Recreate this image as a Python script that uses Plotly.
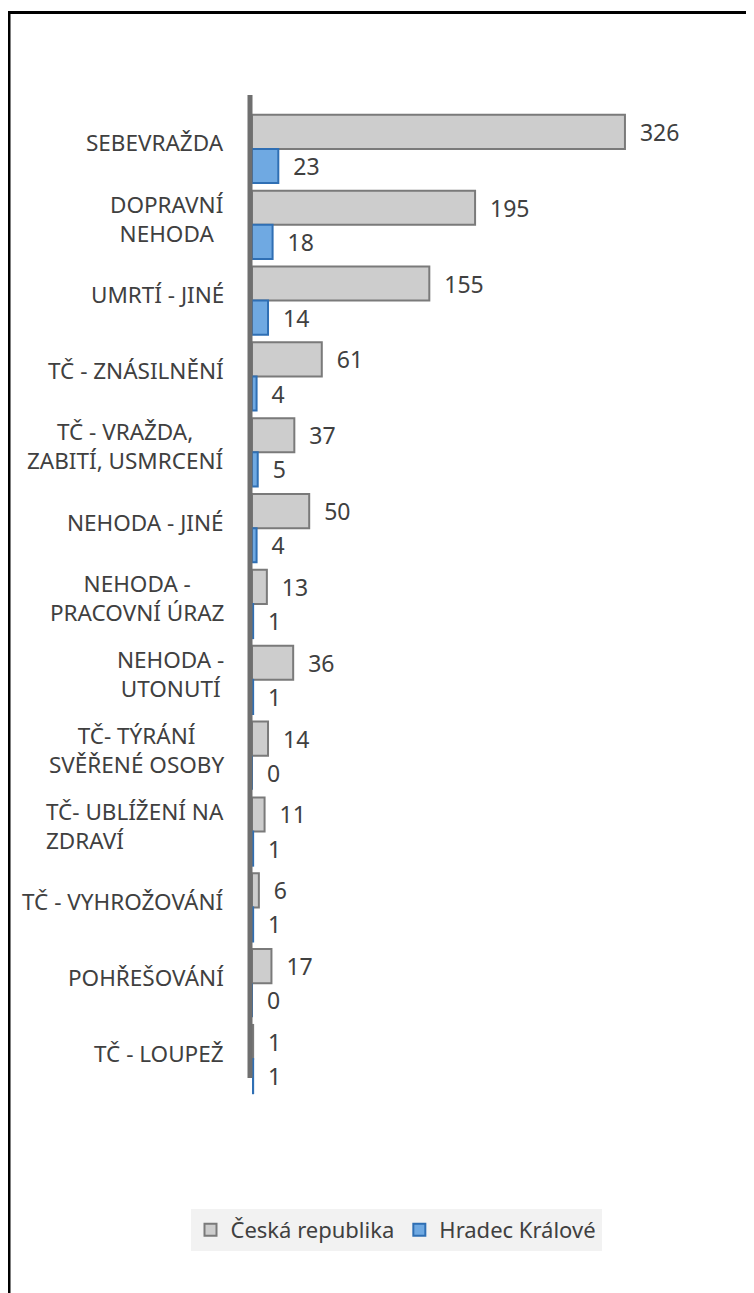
import plotly.graph_objects as go

categories = ["SEBEVRAŽDA", "DOPRAVNÍ NEHODA", "UMRTÍ - JINÉ", "TČ - ZNÁSILNĚNÍ",
              "TČ - VRAŽDA, ZABITÍ, USMRCENÍ", "NEHODA - JINÉ", "NEHODA - PRACOVNÍ ÚRAZ",
              "NEHODA - UTONUTÍ", "TČ- TÝRÁNÍ SVĚŘENÉ OSOBY", "TČ- UBLÍŽENÍ NA ZDRAVÍ",
              "TČ - VYHROŽOVÁNÍ", "POHŘEŠOVÁNÍ", "TČ - LOUPEŽ"]
tick_labels = ["SEBEVRAŽDA", "DOPRAVNÍ<br>NEHODA", "UMRTÍ - JINÉ", "TČ - ZNÁSILNĚNÍ",
               "TČ - VRAŽDA,<br>ZABITÍ, USMRCENÍ", "NEHODA - JINÉ", "NEHODA -<br>PRACOVNÍ ÚRAZ",
               "NEHODA -<br>UTONUTÍ", "TČ- TÝRÁNÍ<br>SVĚŘENÉ OSOBY", "TČ- UBLÍŽENÍ NA<br>ZDRAVÍ",
               "TČ - VYHROŽOVÁNÍ", "POHŘEŠOVÁNÍ", "TČ - LOUPEŽ"]
label_align = ["center"] * 9 + ["left"] + ["center"] * 3
ceska_republika = [326, 195, 155, 61, 37, 50, 13, 36, 14, 11, 6, 17, 1]
hradec_kralove = [23, 18, 14, 4, 5, 4, 1, 1, 0, 1, 1, 0, 1]

OFF = 8  # page body margin
W, H = 754 - OFF, 1293 - OFF
L, T = 252 - OFF, 111 - OFF
PR, PB = 700 - OFF, 1097 - OFF  # plot right / bottom in figure pixels
R, B = W - PR, H - PB
pw, ph = PR - L, PB - T

FONT = "Noto Sans"
TXT = "#404040"

fig = go.Figure()
fig.add_trace(go.Bar(
    y=categories, x=ceska_republika, orientation="h", name="Česká republika",
    marker=dict(color="#cdcdcd", line=dict(color="#7a7a7a", width=2)),
    text=ceska_republika, texttemplate="\u00a0\u00a0%{x}", textposition="outside",
    textfont=dict(family=FONT, size=23, color=TXT), cliponaxis=False,
))
fig.add_trace(go.Bar(
    y=categories, x=hradec_kralove, orientation="h", name="Hradec Králové",
    marker=dict(color="#6fa9e2", line=dict(color="#2f6fb4", width=2)),
    text=hradec_kralove, texttemplate="\u00a0\u00a0%{x}", textposition="outside",
    textfont=dict(family=FONT, size=23, color=TXT), cliponaxis=False,
))

for cat, lab, al in zip(categories, tick_labels, label_align):
    fig.add_annotation(x=0, xref="paper", y=cat, yref="y", text=lab, showarrow=False,
                       xanchor="right", yanchor="middle", xshift=-26, yshift=6, align=al,
                       font=dict(family=FONT, size=22.5, color=TXT))

def px_x(p):
    return (p - OFF - L) / pw

def px_y(p):
    return 1 - (p - OFF - T) / ph

# outer border
fig.add_shape(type="rect", xref="paper", yref="paper",
              x0=px_x(9), x1=px_x(800), y0=px_y(1340), y1=px_y(12.5),
              line=dict(color="black", width=3), fillcolor="rgba(0,0,0,0)", layer="above")
# vertical axis wall
fig.add_shape(type="line", xref="paper", yref="paper",
              x0=px_x(250), x1=px_x(250), y0=px_y(1078), y1=px_y(95),
              line=dict(color="#6f6f6f", width=5), layer="above")

fig.update_layout(
    width=W, height=H,
    margin=dict(l=L, r=R, t=T, b=B, pad=0),
    paper_bgcolor="white", plot_bgcolor="white",
    barmode="group", bargap=0.1, bargroupgap=0,
    showlegend=True,
    legend=dict(orientation="h", xref="container", yref="container",
                x=(396 - OFF) / W, y=1 - (1230 - OFF) / H, xanchor="center", yanchor="middle",
                bgcolor="#f2f2f2", font=dict(family=FONT, size=22, color=TXT),
                itemwidth=30, traceorder="normal"),
    xaxis=dict(range=[0, 391.6], showgrid=False, zeroline=False, showticklabels=False,
               showline=False, ticks=""),
    yaxis=dict(autorange="reversed", showticklabels=False, showgrid=False, zeroline=False,
               showline=False, ticks=""),
    font=dict(family=FONT),
)

fig.write_html("out.html")
